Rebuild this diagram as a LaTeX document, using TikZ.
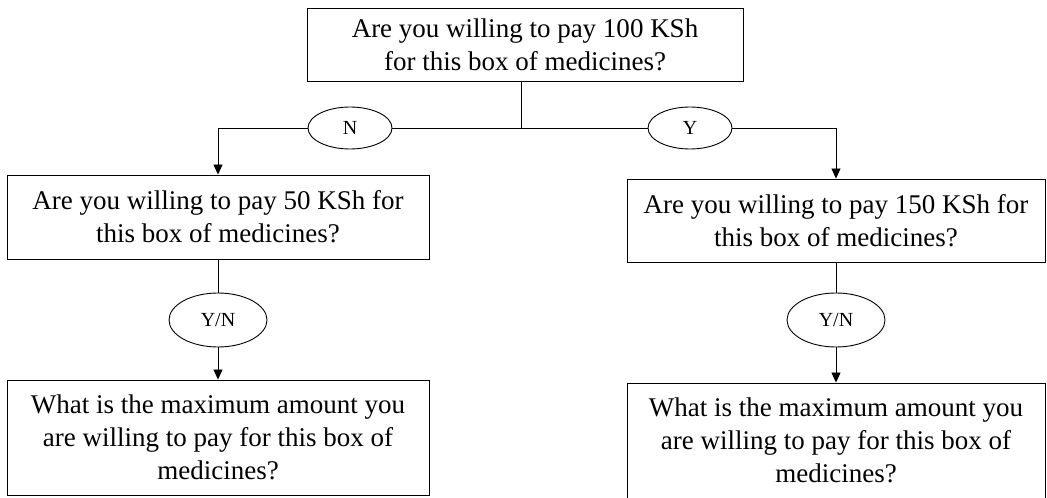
\documentclass[tikz,border=0pt]{standalone}
\usepackage{fontspec}
\setmainfont{Liberation Serif}
\usetikzlibrary{shapes.geometric,arrows.meta}

\tikzset{
    qbox/.style={draw, line width=0.9pt, align=center, inner sep=0pt,
        font=\fontsize{27bp}{33bp}\selectfont},
    answer/.style={draw, ellipse, line width=0.9pt, inner sep=0pt,
        font=\fontsize{20bp}{24bp}\selectfont},
    link/.style={line width=0.9pt},
    flow/.style={line width=0.9pt, -{Triangle[width=9bp,length=10bp]}}
}

\begin{document}
\begin{tikzpicture}[x=1bp, y=-1bp]
    \useasboundingbox (0, 0) rectangle (1047, 498);

    % questions
    \node[qbox, minimum width=436bp, minimum height=73bp] (q100) at (525, 44.5)
        {Are you willing to pay 100 KSh\\for this box of medicines?};
    \node[qbox, minimum width=422bp, minimum height=84bp] (q50) at (218, 217)
        {Are you willing to pay 50 KSh for\\this box of medicines?};
    \node[qbox, minimum width=418bp, minimum height=83bp] (q150) at (836, 220.5)
        {Are you willing to pay 150 KSh for\\this box of medicines?};
    \node[qbox, minimum width=422bp, minimum height=115bp] (maxL) at (218, 437.5)
        {What is the maximum amount you\\are willing to pay for this box of\\medicines?};
    \node[qbox, minimum width=418bp, minimum height=115bp] (maxR) at (836, 440.5)
        {What is the maximum amount you\\are willing to pay for this box of\\medicines?};

    % answers
    \node[answer, minimum width=84bp, minimum height=42bp] (no) at (350, 128) {N};
    \node[answer, minimum width=84bp, minimum height=42bp] (yes) at (690, 128) {Y};
    \node[answer, minimum width=98bp, minimum height=54bp] (ynL) at (218, 320) {Y/N};
    \node[answer, minimum width=98bp, minimum height=54bp] (ynR) at (836, 320) {Y/N};

    \coordinate (split) at (521, 128);

    \draw[link] (q100.south -| split) -- (split);
    \draw[link] (split) -- (no.east);
    \draw[link] (split) -- (yes.west);
    \draw[flow] (no.west) -| (q50.north);
    \draw[flow] (yes.east) -| (q150.north);

    \draw[link] (q50.south) -- (ynL.north);
    \draw[flow] (ynL.south) -- (maxL.north);
    \draw[link] (q150.south) -- (ynR.north);
    \draw[flow] (ynR.south) -- (maxR.north);

\end{tikzpicture}
\end{document}
